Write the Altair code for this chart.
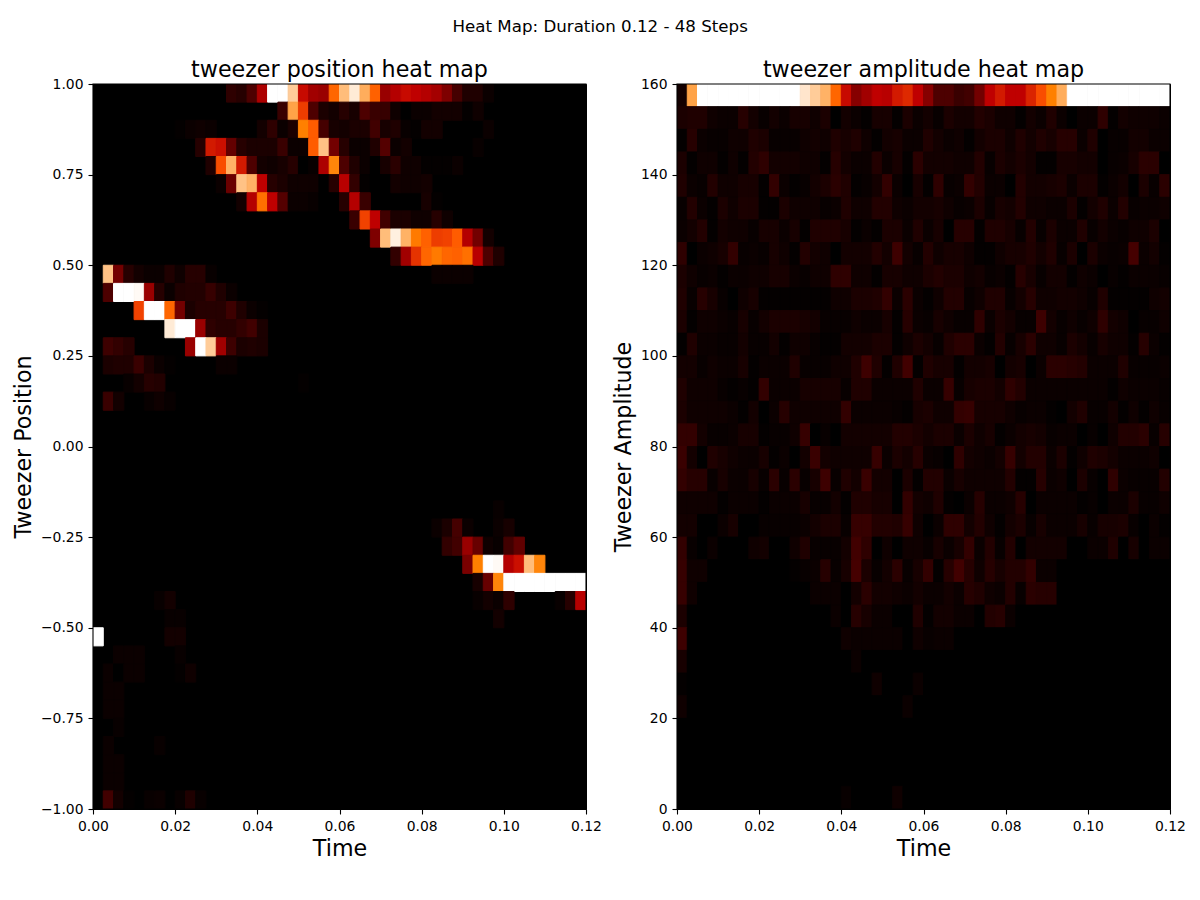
import altair as alt
import pandas as pd

DURATION = 0.12
N_STEPS = 48
POS_MIN, POS_MAX, POS_BINS = -1.0, 1.0, 40
AMP_MIN, AMP_MAX, AMP_BINS = 0.0, 160.0, 32

x_ticks = [0.0, 0.02, 0.04, 0.06, 0.08, 0.10, 0.12]
pos_ticks = [-1.0, -0.75, -0.5, -0.25, 0.0, 0.25, 0.5, 0.75, 1.0]
amp_ticks = [0, 20, 40, 60, 80, 100, 120, 140, 160]

# Position heat map: row (from the top) -> list of (first step, percent values)
position_rows = {
    0: [(13, [12,10,20,45,100,100,90,52,42,40,70,87,96,84,69,40,47,52,50,47,43,33,18,8,8,3])],
    1: [(18, [15,82,62,20,7,5,10,6,20,15,14,4,0,3,3,5,5,5,1,4])],
    2: [(8, [1,3,4,3]), (16, [5,12,3,7,75,68,18,6,5,7,7,17,6,8,2,1,5,5]), (38, [3])],
    3: [(10, [10,55,53,26,10,7,7,7,15,3,3,68,88,30,10,3,3,8,22,3,5]), (37, [2])],
    4: [(11, [8,65,85,55,20,5,4,6,10,0,2,45,76,20,8,3,0,6,11,4,4,1,1,1,3])],
    5: [(12, [3,28,88,85,50,10,7,4,4,4,0,10,48,13,1,0,0,5,4,4,5])],
    6: [(14, [5,47,72,50,22,3,3,2,0,0,10,47,15]), (32, [6,1])],
    7: [(25, [15,63,50,17,7,7,4,4,10,4])],
    8: [(27, [33,87,97,85,74,69,62,63,68,47,30,5])],
    9: [(29, [13,42,60,70,74,70,69,72,48,20,8])],
    10: [(1, [88,30,10,5,3,3,8,4,10,10,2]), (33, [3,3,3,3])],
    11: [(1, [20,100,100,99,40,10,3,8,9,9,14,8,3])],
    12: [(4, [63,100,100,70,30,7,10,10,10,16,8,3,1])],
    13: [(7, [96,100,100,40,12,10,10,13,17,7])],
    14: [(1, [16,13,10]), (9, [40,100,90,42,16,7,8,7])],
    15: [(1, [7,8,8,15,7,3,1]), (12, [3,3])],
    16: [(3, [2,5,10,9]), (20, [1])],
    17: [(1, [15,5]), (5, [2,4,2])],
    23: [(39, [2])],
    24: [(33, [3,7,18,3]), (39, [3,6])],
    25: [(34, [13,17,40,27,4,2,17,25])],
    26: [(36, [32,75,100,99,47,53,87,76])],
    27: [(37, [6,27,76,100,100,100,100,100,100,100,100])],
    28: [(6, [2,5]), (37, [2,5,3,12]), (45, [2,10,48])],
    29: [(7, [2,2]), (39, [5])],
    30: [(0, [100]), (7, [5,5])],
    31: [(2, [3,3,3]), (8, [2])],
    32: [(1, [3,0,3,3]), (8, [1,4])],
    33: [(1, [3,3])],
    34: [(1, [3,3])],
    35: [(2, [2])],
    36: [(1, [3]), (6, [2])],
    37: [(1, [3,3])],
    38: [(1, [3,3])],
    39: [(1, [17,5,1]), (5, [2,3]), (8, [2,8,2])],
}

# Amplitude heat map: percent values, first 24 and last 24 steps of each row
amp_early = [
    [5,82,100,100,100,100,100,100,100,100,100,100,95,90,85,70,52,35,42,50,48,55,58,50],
    [7,8,8,4,3,3,10,5,2,5,3,6,6,4,7,0,5,3,1,6,6,1,7,3],
    [1,10,3,2,2,4,4,8,7,2,2,2,4,5,4,8,6,8,4,1,5,6,3,3],
    [7,1,4,4,1,4,1,9,12,5,5,5,4,4,1,10,5,3,3,9,3,6,1,11],
    [8,3,2,9,4,4,6,6,1,13,3,1,2,5,7,11,8,1,2,5,13,3,0,6],
    [2,9,3,1,7,4,7,7,1,1,7,4,4,4,2,3,8,4,4,9,9,4,3,5],
    [3,5,9,1,5,4,4,2,6,6,3,6,1,8,8,8,6,1,3,1,7,7,3,8],
    [12,0,3,4,6,13,2,3,2,6,4,1,9,5,4,0,5,5,5,9,5,16,5,2],
    [7,4,2,3,1,3,3,4,4,6,6,3,2,4,4,12,12,4,4,1,6,6,4,4],
    [8,2,10,6,2,0,4,6,1,1,1,1,1,1,1,4,4,7,7,8,13,3,11,3],
    [7,1,4,4,3,2,6,2,5,7,7,7,6,5,2,2,2,4,3,3,6,1,10,3],
    [1,8,3,3,2,2,5,2,2,5,1,4,4,2,1,1,5,5,5,7,7,1,4,7],
    [5,5,2,4,3,3,6,1,3,3,3,8,2,2,2,4,4,8,16,8,1,8,17,1],
    [8,4,4,4,2,1,2,1,13,3,3,3,6,6,6,6,2,8,8,3,3,3,3,8],
    [7,4,4,4,4,3,1,5,0,3,10,4,4,4,4,4,13,3,3,3,3,2,1,6],
    [13,13,5,2,2,3,6,6,1,2,2,4,14,0,2,0,5,5,5,5,5,9,9,7],
    [15,5,0,8,6,4,3,3,6,1,3,0,5,15,5,4,4,4,4,14,3,7,5,10],
    [13,10,10,2,6,3,3,6,2,11,2,11,2,6,16,2,8,5,15,5,5,0,7,1],
    [4,4,4,4,1,3,3,3,1,3,3,3,6,2,2,5,1,8,8,6,6,0,13,5],
    [5,5,0,0,3,6,0,0,2,2,2,2,3,5,7,7,2,14,14,9,9,8,14,4],
    [13,2,0,3,0,0,0,4,5,0,0,4,8,2,2,2,5,17,12,0,4,0,4,4],
    [14,4,4,0,0,0,0,0,0,0,0,1,2,3,10,2,6,18,7,2,5,11,2,6],
    [14,4,0,0,0,0,0,0,0,0,0,0,0,3,3,3,0,5,11,5,5,4,3,5],
    [7,0,0,0,0,0,0,0,0,0,0,0,0,0,0,3,0,10,6,3,3,0,0,8],
    [16,0,0,0,0,0,0,0,0,0,0,0,0,0,0,0,4,3,3,3,3,3,0,4],
    [6,0,0,0,0,0,0,0,0,0,0,0,0,0,0,0,0,3,0,0,0,0,0,0],
    [1,0,0,0,0,0,0,0,0,0,0,0,0,0,0,0,0,0,0,4,0,0,0,3],
    [4,0,0,0,0,0,0,0,0,0,0,0,0,0,0,0,0,0,0,0,0,0,3,0],
    [0] * 24,
    [0] * 24,
    [0] * 24,
    [0,0,0,0,0,0,0,0,0,0,0,0,0,0,0,0,2,0,0,0,0,4,0,0],
]
amp_late = [
    [35,20,20,15,17,30,50,55,50,50,57,65,75,84,100,100,100,100,100,100,100,100,100,100],
    [5,2,7,5,5,9,7,4,4,1,5,3,8,3,0,3,3,12,1,5,4,4,4,3],
    [8,5,3,4,1,5,7,7,4,8,5,8,6,10,10,3,8,0,2,2,5,5,3,3],
    [5,5,5,4,4,9,2,7,5,7,5,1,1,6,6,5,5,0,2,3,6,11,11,0],
    [1,12,2,3,13,9,3,3,0,9,5,5,6,7,3,7,7,1,3,5,0,7,2,11],
    [5,6,4,2,3,7,2,6,5,9,4,4,3,3,7,1,5,8,3,9,2,3,3,4],
    [3,6,0,10,10,1,8,8,6,2,9,2,7,3,3,8,2,5,3,2,4,4,7,0],
    [9,4,6,6,4,1,1,4,6,6,8,5,8,2,7,0,7,3,2,3,18,3,5,1],
    [7,9,7,7,4,5,2,3,1,10,6,2,5,5,1,4,3,0,2,1,3,3,3,2],
    [1,4,9,9,2,4,8,8,2,5,10,4,4,5,5,4,2,8,1,1,1,1,4,5],
    [2,6,4,2,2,12,3,7,5,2,2,16,5,2,4,2,4,12,5,4,0,2,2,4],
    [5,2,8,11,11,3,1,9,2,6,11,4,4,2,7,5,2,6,4,4,1,10,3,1],
    [8,6,6,1,5,5,6,0,5,6,0,3,11,11,10,9,3,3,3,8,2,2,2,3],
    [3,3,14,2,6,7,7,5,12,9,3,3,3,3,3,3,3,3,1,4,3,3,3,2],
    [7,4,4,13,14,6,6,6,4,2,3,3,1,0,5,8,2,2,5,1,4,1,4,2],
    [5,7,7,3,7,4,6,1,3,5,6,5,2,3,3,0,2,0,4,9,9,11,2,10],
    [3,2,0,12,5,4,3,5,14,5,9,9,3,7,1,4,8,7,5,3,3,3,4,0],
    [9,9,3,6,4,4,4,4,9,1,1,10,3,4,0,7,2,0,12,3,2,2,2,9],
    [4,8,1,0,3,10,3,3,4,10,0,3,3,3,3,1,2,0,3,3,7,2,2,4],
    [0,3,12,12,5,9,4,1,5,7,2,6,3,3,3,6,2,6,6,7,2,0,3,1],
    [2,6,3,6,13,3,9,2,9,0,5,5,5,5,0,0,3,3,8,0,6,0,3,3],
    [13,1,10,17,10,4,10,6,9,9,13,3,3,0,0,0,0,0,0,0,0,0,0,0],
    [3,3,5,3,10,8,4,3,9,2,11,10,10,0,0,0,0,0,0,0,0,0,0,0],
    [1,5,5,3,3,0,9,10,3,0,0,0,0,0,0,0,0,0,0,0,0,0,0,0],
    [2,3,3,0,0,0,0,0,0,0,0,0,0,0,0,0,0,0,0,0,0,0,0,0],
    [0] * 24,
    [0] * 24,
    [0] * 24,
    [0] * 24,
    [0] * 24,
    [0] * 24,
    [0] * 24,
]
for a, b in zip(amp_early, amp_late):
    assert len(a) == 24 and len(b) == 24, (a, b)

dt = DURATION / N_STEPS
dp = (POS_MAX - POS_MIN) / POS_BINS
da = (AMP_MAX - AMP_MIN) / AMP_BINS


def heat_hex(t):
    # gist_heat colormap
    red = min(1.0, 1.5 * t)
    green = max(0.0, 2 * t - 1)
    blue = max(0.0, 4 * t - 3)
    return "#%02x%02x%02x" % (round(red * 255), round(green * 255), round(blue * 255))


pos_records = []
for r, segs in position_rows.items():
    for start, vals in segs:
        for k, v in enumerate(vals):
            c = start + k
            pos_records.append(dict(t0=c * dt, t1=(c + 1) * dt,
                                    y0=POS_MAX - (r + 1) * dp, y1=POS_MAX - r * dp,
                                    colour=heat_hex(v / 100)))
amp_records = []
for r in range(AMP_BINS):
    for c, v in enumerate(amp_early[r] + amp_late[r]):
        amp_records.append(dict(t0=c * dt, t1=(c + 1) * dt,
                                y0=AMP_MAX - (r + 1) * da, y1=AMP_MAX - r * da,
                                colour=heat_hex(v / 100)))


def panel(records, title, ylabel, ylo, yhi, yticks, yfmt):
    x_enc = alt.X("t0:Q", scale=alt.Scale(domain=[0, DURATION], nice=False, zero=False),
                  axis=alt.Axis(title="Time", values=x_ticks, format=".2f", grid=False))
    y_enc = alt.Y("y0:Q", scale=alt.Scale(domain=[ylo, yhi], nice=False, zero=False),
                  axis=alt.Axis(title=ylabel, values=yticks, format=yfmt, grid=False))
    cells = alt.Chart(pd.DataFrame(records)).mark_rect(strokeWidth=1, opacity=1, clip=True).encode(
        x=x_enc, x2="t1:Q", y=y_enc, y2="y1:Q",
        color=alt.Color("colour:N", scale=None),
        stroke=alt.Stroke("colour:N", scale=None),
    )
    frame_df = pd.DataFrame([dict(t0=0.0, t1=DURATION, y0=ylo, y1=yhi)])
    frame = alt.Chart(frame_df).mark_rect(fillOpacity=0, stroke="#000000", strokeWidth=1.1).encode(
        x="t0:Q", x2="t1:Q", y="y0:Q", y2="y1:Q",
    )
    return alt.layer(cells, frame).properties(width=493, height=725, title=title)


left = panel(pos_records, "tweezer position heat map", "Tweezer Position", POS_MIN, POS_MAX, pos_ticks, ".2f")
right = panel(amp_records, "tweezer amplitude heat map", "Tweezer Amplitude", AMP_MIN, AMP_MAX, amp_ticks, "d")

chart = alt.hconcat(left, right, spacing=91, bounds="flush").properties(
    title=alt.TitleParams("Heat Map: Duration 0.12 - 48 Steps", anchor="middle", fontSize=16.67,
                          fontWeight="normal", font="DejaVu Sans", color="#000000", offset=23, dx=1),
    padding={"left": 4, "top": 10, "right": 5, "bottom": 5},
).configure_view(fill="#000000", stroke="#000000", strokeWidth=1).configure_axis(
    labelFont="DejaVu Sans", titleFont="DejaVu Sans", labelFontSize=13.9, titleFontSize=22.2,
    titleFontWeight="normal", labelColor="#000000", titleColor="#000000",
    tickColor="#000000", domainColor="#000000", tickSize=5, tickWidth=1.1, labelPadding=5,
    labelFlush=False, labelOverlap=False, titlePadding=4.5,
).configure_title(font="DejaVu Sans", fontSize=22.2, fontWeight="normal", color="#000000", offset=-4)

chart.save("out.html", embed_options={"renderer": "svg", "actions": False})
